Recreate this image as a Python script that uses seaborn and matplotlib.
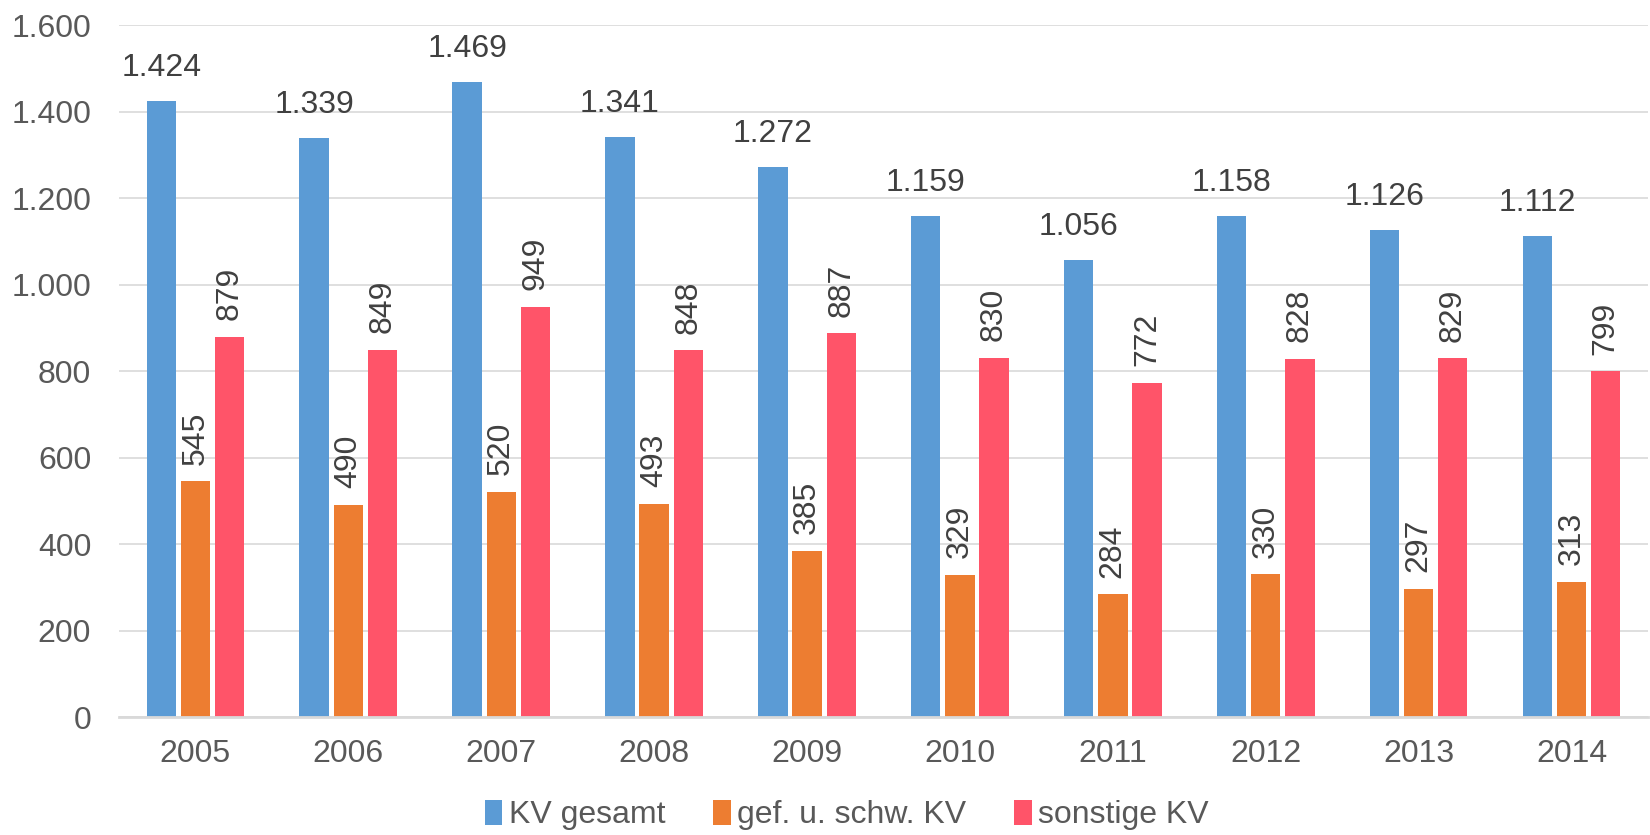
import pandas as pd
import seaborn as sns
import matplotlib
matplotlib.use('Agg')
import matplotlib.pyplot as plt
from matplotlib.ticker import FuncFormatter

jahre = ["2005", "2006", "2007", "2008", "2009", "2010", "2011", "2012", "2013", "2014"]
kv_gesamt = [1424, 1339, 1469, 1341, 1272, 1159, 1056, 1158, 1126, 1112]
kv_gef_schw = [545, 490, 520, 493, 385, 329, 284, 330, 297, 313]
kv_sonstige = [879, 849, 949, 848, 887, 830, 772, 828, 829, 799]
reihen = ["KV gesamt", "gef. u. schw. KV", "sonstige KV"]
farben = ["#5B9BD5", "#ED7D31", "#FF5469"]

df = pd.DataFrame({
    "Jahr": jahre * 3,
    "Wert": kv_gesamt + kv_gef_schw + kv_sonstige,
    "Reihe": [reihen[0]] * 10 + [reihen[1]] * 10 + [reihen[2]] * 10,
})

sns.set_style("white")
plt.rcParams['font.family'] = ['Liberation Sans', 'DejaVu Sans']

def tausender(v):
    return f"{int(v):,}".replace(",", ".")

fig = plt.figure(figsize=(16.5, 8.35), dpi=100)
ax = fig.add_axes([0.0721, 0.1413, 0.9267, 0.8287])

sns.barplot(data=df, x="Jahr", y="Wert", hue="Reihe", palette=farben,
            width=0.67, gap=0.14, saturation=1, linewidth=0, ax=ax, legend=True)

ax.set_ylim(0, 1600)
ax.set_xlim(-0.5, 9.5)
ax.set_yticks(range(0, 1601, 200))
ax.yaxis.set_major_formatter(FuncFormatter(lambda v, p: tausender(v)))
ax.grid(axis="y", color="#d9d9d9", linewidth=1.2)
ax.set_axisbelow(True)
for s in ["top", "right", "left"]:
    ax.spines[s].set_visible(False)
ax.spines["bottom"].set_color("#d9d9d9")
ax.spines["bottom"].set_linewidth(2)
ax.tick_params(axis="y", length=0, pad=20, labelsize=23, labelcolor="#595959")
ax.tick_params(axis="x", length=0, pad=16, labelsize=23, labelcolor="#595959")
ax.set_xlabel("")
ax.set_ylabel("")

# Datenbeschriftungen
for i, cont in enumerate(ax.containers):
    for bar in cont:
        h = bar.get_height()
        x = bar.get_x() + bar.get_width() / 2
        if i == 0:
            ax.annotate(tausender(h), (x, h), xytext=(0, 13), textcoords="offset points",
                        ha="center", va="bottom", fontsize=23, color="#404040")
        else:
            ax.annotate(tausender(h), (x, h), xytext=(0, 12), textcoords="offset points",
                        ha="center", va="bottom", rotation=90, fontsize=23, color="#404040")

ax.legend(loc="center", bbox_to_anchor=(0.476, -0.142), ncol=3, frameon=False,
          fontsize=23, labelcolor="#595959", handlelength=0.55, handleheight=0.8,
          handletextpad=0.2, columnspacing=1.5)

fig.savefig("out.png", dpi=100)
